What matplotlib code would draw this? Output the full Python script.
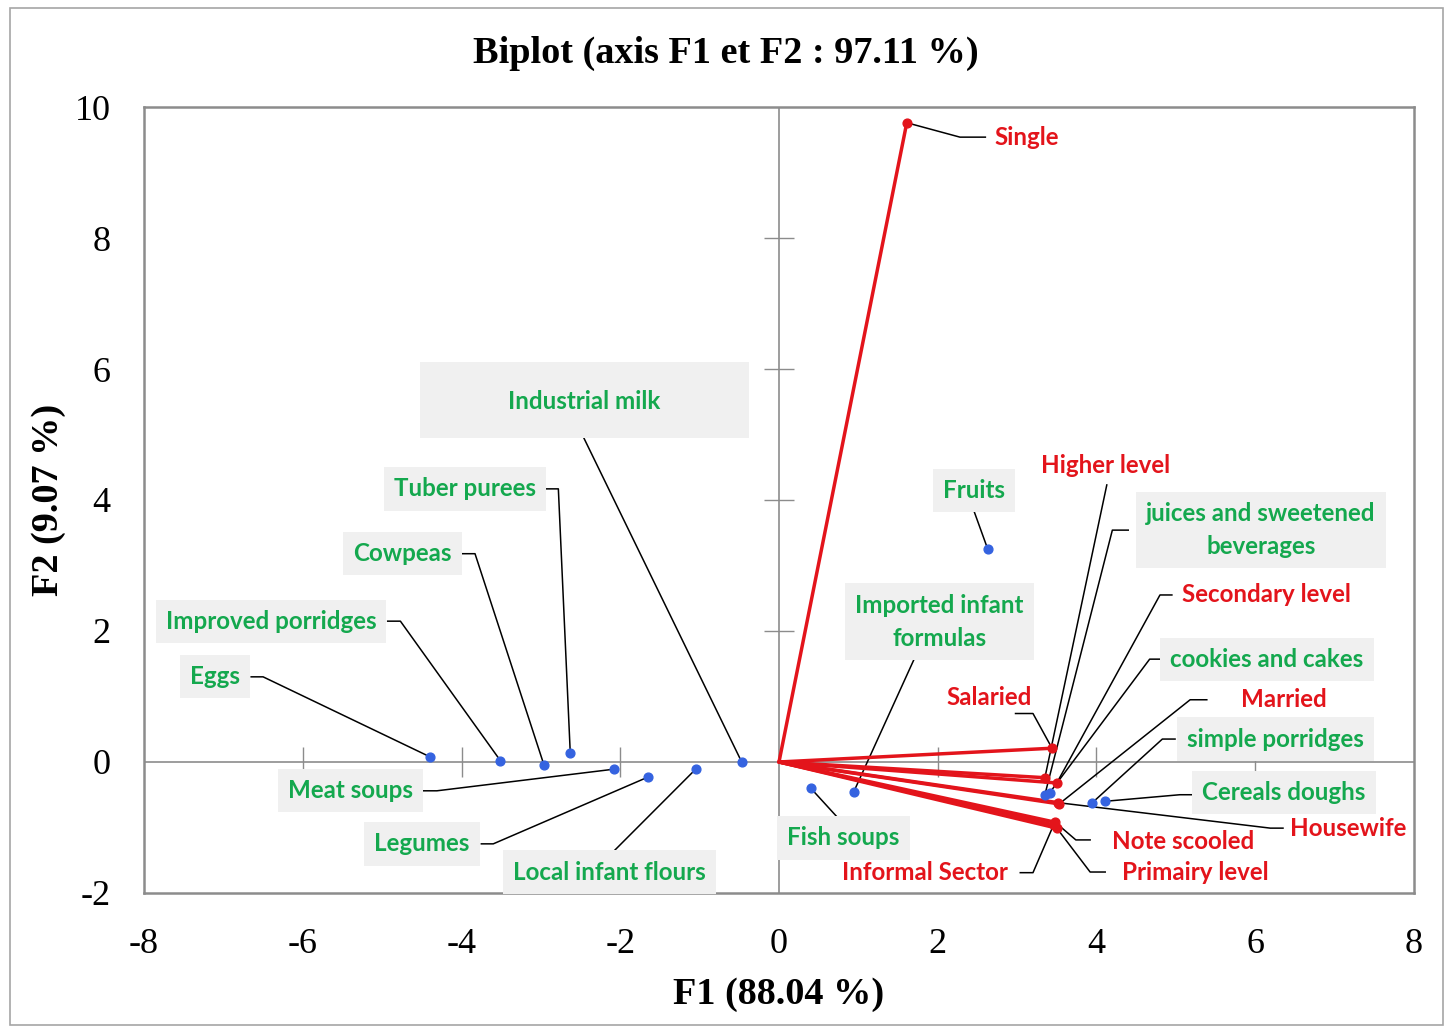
import matplotlib
matplotlib.use("Agg")
import matplotlib.pyplot as plt
from matplotlib.patches import Rectangle

plt.rcParams["axes.unicode_minus"] = False

# ---------------- data ----------------
obs_names = ["Eggs", "Improved porridges", "Cowpeas", "Tuber purees", "Industrial milk",
             "Meat soups", "Legumes", "Local infant flours", "Fish soups",
             "Imported infant\nformulas", "Fruits", "juices and sweetened\nbeverages",
             "cookies and cakes", "simple porridges", "Cereals doughs"]
obs_f1 = [-4.40, -3.51, -2.96, -2.63, -0.47, -2.08, -1.65, -1.05, 0.40, 0.94, 2.63, 3.35, 3.41, 3.94, 4.11]
obs_f2 = [0.08, 0.02, -0.05, 0.14, 0.00, -0.11, -0.23, -0.11, -0.40, -0.46, 3.25, -0.50, -0.47, -0.63, -0.60]

var_names = ["Single", "Higher level", "Secondary level", "Salaried", "Married",
             "Housewife", "Note scooled", "Primairy level", "Informal Sector"]
var_f1 = [1.61, 3.35, 3.50, 3.44, 3.53, 3.51, 3.48, 3.50, 3.46]
var_f2 = [9.76, -0.24, -0.32, 0.21, -0.64, -0.62, -0.92, -1.01, -0.96]

x_ticks = [-8, -6, -4, -2, 0, 2, 4, 6, 8]
y_ticks = [-2, 0, 2, 4, 6, 8, 10]

# ---------------- layout (label centre, leader attach, elbow x) ----------------
obs_layout = [
    (-7.11, 1.30, -6.65, 1.30, -6.50),
    (-6.40, 2.15, -4.93, 2.15, -4.77),
    (-4.74, 3.18, -3.99, 3.18, -3.83),
    (-3.96, 4.17, -2.94, 4.17, -2.78),
    (-2.46, 5.51, -2.46, 4.95, None),
    (-5.40, -0.44, -4.49, -0.44, -4.31),
    (-4.50, -1.25, -3.75, -1.25, -3.60),
    (-2.14, -1.68, -2.08, -1.36, None),
    (0.81, -1.16, 0.77, -0.89, None),
    (2.02, 2.14, 1.71, 1.59, None),
    (2.46, 4.15, 2.46, 3.82, None),
    (6.07, 3.54, 4.40, 3.54, 4.20),
    (6.15, 1.57, 4.81, 1.57, 4.67),
    (6.26, 0.35, 4.99, 0.35, 4.83),
    (6.36, -0.47, 5.22, -0.50, 5.05),
]
var_layout = [
    (3.12, 9.54, 2.60, 9.54, 2.28),
    (4.11, 4.53, 4.13, 4.23, None),
    (6.14, 2.55, 4.95, 2.55, 4.80),
    (2.65, 0.99, 2.98, 0.74, 3.20),
    (6.36, 0.95, 5.39, 0.95, 5.18),
    (7.17, -1.01, 6.35, -1.01, 6.19),
    (5.09, -1.21, 3.92, -1.19, 3.74),
    (5.24, -1.68, 4.11, -1.68, 3.92),
    (1.84, -1.69, 3.04, -1.69, 3.20),
]

GREEN = "#14a84e"
RED = "#e3141b"
BLUE = "#3563e0"
GRAY = "#8c8c8c"
BOXC = "#f0f0f0"
LABFONT = ["Lato", "DejaVu Sans"]
SERIF = ["Liberation Serif", "DejaVu Serif"]
LFS = 17.4

fig = plt.figure(figsize=(14.52, 10.27), dpi=100)
fig.patches.append(Rectangle((0.007, 0.002), 0.987, 0.990, transform=fig.transFigure,
                             fill=False, ec="#a6a6a6", lw=1.2))
ax = fig.add_axes([0.0992, 0.1305, 0.8746, 0.7653])
ax.set_xlim(-8, 8)
ax.set_ylim(-2, 10)
for s in ax.spines.values():
    s.set_color(GRAY)
    s.set_linewidth(1.8)
ax.set_xticks(x_ticks)
ax.set_yticks(y_ticks)
ax.tick_params(axis="x", length=0, pad=25, labelsize=26)
ax.tick_params(axis="y", length=0, pad=24, labelsize=26)
for lab in ax.get_xticklabels() + ax.get_yticklabels():
    lab.set_family(SERIF)

# zero axes with crossing ticks
ax.axhline(0, color=GRAY, lw=1.2, zorder=1)
ax.axvline(0, color=GRAY, lw=1.2, zorder=1)
ax.plot([t for t in x_ticks if t not in (-8, 0, 8)], [0] * 6, ls="none", marker="|",
        ms=22, mew=1.0, color=GRAY, zorder=1)
ax.plot([0] * 4, [t for t in y_ticks if t not in (-2, 0, 10)], ls="none", marker="_",
        ms=22, mew=1.0, color=GRAY, zorder=1)

# leader lines
def leader(px, py, lay):
    lx, ly, axx, ayy, ex = lay
    if ex is None:
        ax.plot([px, axx], [py, ayy], color="black", lw=1.1, zorder=2)
    else:
        ax.plot([px, ex, axx], [py, ayy, ayy], color="black", lw=1.1, zorder=2)

for x, y, lay in zip(obs_f1, obs_f2, obs_layout):
    leader(x, y, lay)
for x, y, lay in zip(var_f1, var_f2, var_layout):
    leader(x, y, lay)

# vectors
for x, y in zip(var_f1, var_f2):
    ax.plot([0, x], [0, y], color=RED, lw=2.5, zorder=3, solid_capstyle="round")
ax.scatter(var_f1, var_f2, s=40, color=RED, zorder=4)
ax.scatter(obs_f1, obs_f2, s=40, color=BLUE, zorder=4)

# labels
for name, lay in zip(obs_names, obs_layout):
    lx, ly = lay[0], lay[1]
    if name == "Industrial milk":
        ax.add_patch(Rectangle((-4.52, 4.95), 4.14, 1.16, fc=BOXC, ec="none", zorder=2.5))
        ax.text(lx, ly, name, color=GREEN, fontsize=LFS, fontweight="bold", family=LABFONT,
                ha="center", va="center", zorder=5)
    else:
        ax.text(lx, ly, name, color=GREEN, fontsize=LFS, fontweight="bold", family=LABFONT,
                ha="center", va="center", zorder=5, linespacing=1.55,
                bbox=dict(boxstyle="square,pad=0.42", fc=BOXC, ec="none"))
for name, lay in zip(var_names, var_layout):
    ax.text(lay[0], lay[1], name, color=RED, fontsize=LFS, fontweight="bold", family=LABFONT,
            ha="center", va="center", zorder=5)

fig.text(0.5, 1 - 53 / 1027, "Biplot (axis F1 et F2 : 97.11 %)", family=SERIF,
         fontweight="bold", fontsize=27.5, ha="center", va="center")
ax.set_xlabel("F1 (88.04 %)", family=SERIF, fontweight="bold", fontsize=27.5, labelpad=12)
ax.set_ylabel("F2 (9.07 %)", family=SERIF, fontweight="bold", fontsize=27.5, labelpad=6)

fig.savefig("out.png", dpi=100)
